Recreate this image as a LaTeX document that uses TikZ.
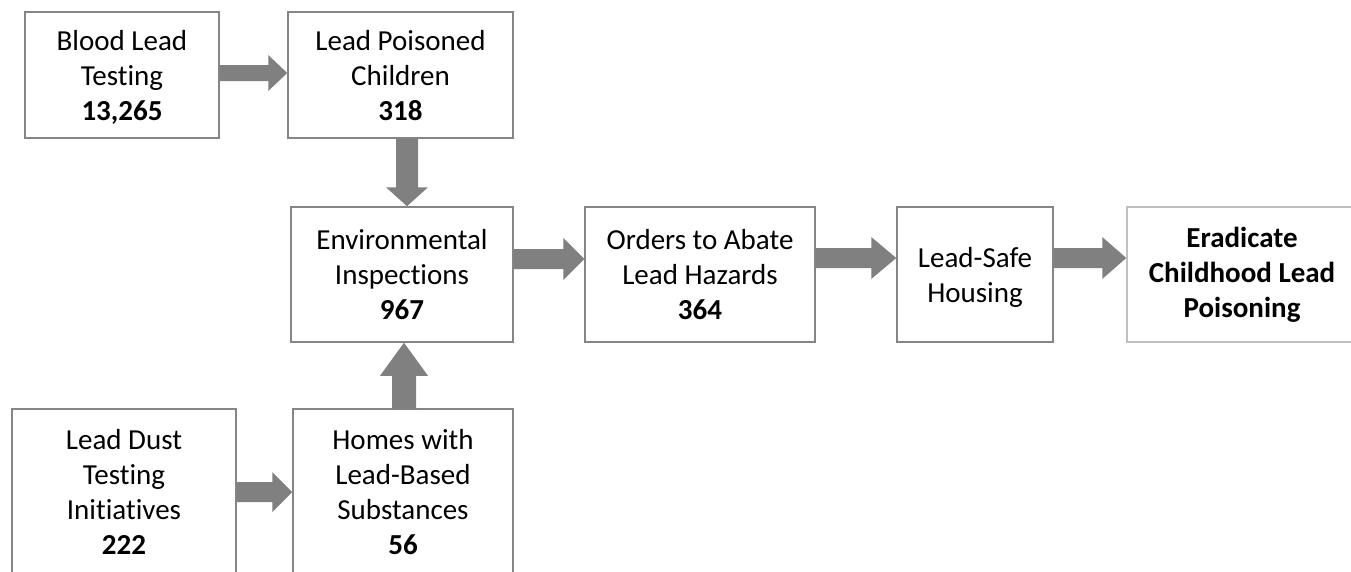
\documentclass[tikz,border=0pt]{standalone}
\usepackage{fontspec}
\setmainfont{Carlito}[Ligatures=NoCommon]
\usetikzlibrary{calc}
\definecolor{boxgray}{HTML}{858585}
\definecolor{lightbox}{HTML}{C0C0C0}
\definecolor{arrowgray}{HTML}{808080}
\newcommand\harrowfat[6]{% from, to, y, shaft half, head half, head length
  \fill[arrowgray] let \p1=(#1.east), \p2=(#2.west), \p3=(0,#3) in
    (\x1,\y3+#4pt) -- (\x2-#6pt,\y3+#4pt) -- (\x2-#6pt,\y3+#5pt) -- (\x2,\y3)
    -- (\x2-#6pt,\y3-#5pt) -- (\x2-#6pt,\y3-#4pt) -- (\x1,\y3-#4pt) -- cycle;}
\newcommand\downarrowfat[6]{% from (above), to (below), x, shaft half, head half, head length
  \fill[arrowgray] let \p1=(#1.south), \p2=(#2.north), \p3=(#3,0) in
    (\x3-#4pt,\y1) -- (\x3-#4pt,\y2+#6pt) -- (\x3-#5pt,\y2+#6pt) -- (\x3,\y2)
    -- (\x3+#5pt,\y2+#6pt) -- (\x3+#4pt,\y2+#6pt) -- (\x3+#4pt,\y1) -- cycle;}
\newcommand\uparrowfat[6]{% from (below), to (above), x, shaft half, head half, head length
  \fill[arrowgray] let \p1=(#1.north), \p2=(#2.south), \p3=(#3,0) in
    (\x3-#4pt,\y1) -- (\x3-#4pt,\y2-#6pt) -- (\x3-#5pt,\y2-#6pt) -- (\x3,\y2)
    -- (\x3+#5pt,\y2-#6pt) -- (\x3+#4pt,\y2-#6pt) -- (\x3+#4pt,\y1) -- cycle;}
\tikzset{
  flowbox/.style={draw=boxgray, line width=1.5pt, fill=white, inner sep=0pt,
    align=center, font=\fontsize{29}{35}\selectfont},
}
\begin{document}
\begin{tikzpicture}[x=1pt,y=-1pt]
\useasboundingbox (0,0) rectangle (1351,571);
\clip (0,0) rectangle (1351,571);
\fill[white] (0,0) rectangle (1351,571);
\node[flowbox, minimum width=194pt, minimum height=126pt, text depth=0pt] (b1) at (122,75)
  {Blood Lead\\Testing\\\textbf{13,265}};
\node[flowbox, minimum width=225pt, minimum height=126pt, text depth=0pt] (b2) at (400.5,75)
  {Lead Poisoned\\Children\\\textbf{318}};
\node[flowbox, minimum width=222pt, minimum height=135pt] (b3) at (402,274.5)
  {Environmental\\Inspections\\\textbf{967}};
\node[flowbox, minimum width=230pt, minimum height=135pt] (b4) at (700,274.5)
  {Orders to Abate\\Lead Hazards\\\textbf{364}};
\node[flowbox, minimum width=156pt, minimum height=135pt, text depth=0pt] (b5) at (975,274.5)
  {Lead-Safe\\Housing};
\node[flowbox, draw=lightbox, minimum width=230pt, minimum height=135pt] (b6) at (1242,274.5)
  {\textbf{Eradicate}\\\textbf{Childhood Lead}\\\textbf{Poisoning}};
\node[flowbox, minimum width=224pt, minimum height=166pt] (b7) at (124,492)
  {Lead Dust\\Testing\\Initiatives\\\textbf{222}};
\node[flowbox, minimum width=220pt, minimum height=166pt] (b8) at (403,492)
  {Homes with\\Lead-Based\\Substances\\\textbf{56}};
\harrowfat{b1}{b2}{73}{8}{18}{19}
\harrowfat{b3}{b4}{259}{10}{21}{21}
\harrowfat{b4}{b5}{258}{10}{21}{25}
\harrowfat{b5}{b6}{258}{10}{21}{24}
\harrowfat{b7}{b8}{492}{10}{20}{20}
\downarrowfat{b2}{b3}{407}{11}{21}{19}
\uparrowfat{b8}{b3}{404}{12}{24}{33}
\end{tikzpicture}
\end{document}
